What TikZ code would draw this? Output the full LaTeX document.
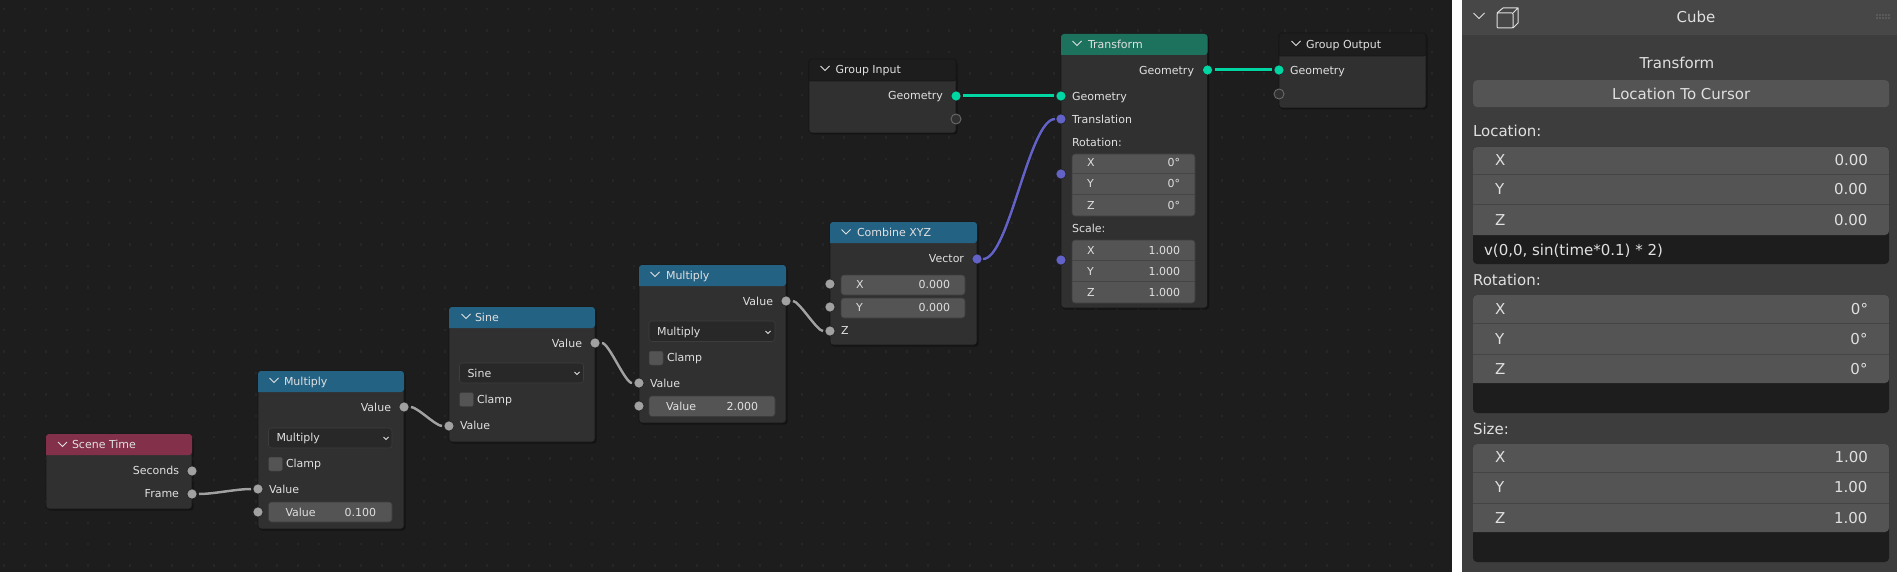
\documentclass[tikz,border=0pt]{standalone}
\usepackage{fontspec}
\usetikzlibrary{shadows}
\setmainfont{DejaVu Sans}
\definecolor{bgc}{HTML}{1D1D1D}
\definecolor{griddot}{HTML}{262626}
\definecolor{nbody}{HTML}{303030}
\definecolor{edgec}{HTML}{171717}
\definecolor{hblue}{HTML}{246283}
\definecolor{hred}{HTML}{83314A}
\definecolor{hgreen}{HTML}{1D725E}
\definecolor{fieldc}{HTML}{545454}
\definecolor{ddc}{HTML}{282828}
\definecolor{ddedge}{HTML}{3D3D3D}
\definecolor{txt}{HTML}{E0E0E0}
\definecolor{sgray}{HTML}{A1A1A1}
\definecolor{sgeo}{HTML}{00D6A3}
\definecolor{svec}{HTML}{6363C7}
\definecolor{panelc}{HTML}{3D3D3D}
\definecolor{panelh}{HTML}{474747}
\definecolor{paneldark}{HTML}{1D1D1D}
\definecolor{sepc}{HTML}{444444}
\newcommand{\nfs}{\fontsize{11}{13}\selectfont}
\newcommand{\pfs}{\fontsize{15}{18}\selectfont}
\tikzset{
  x=1pt,y=-1pt,
  bodybox/.style={rectangle,fill=nbody,draw=edgec,line width=.8pt,rounded corners=3pt,inner sep=0pt,outer sep=0pt,anchor=north west,drop shadow={shadow xshift=1.5pt,shadow yshift=-1.5pt,opacity=.35,fill=black}},
  lblbase/.style={inner sep=0pt,outer sep=0pt,text=txt,font=\nfs,text height=8pt,text depth=0pt},
  lblL/.style={lblbase,anchor=west},
  lblR/.style={lblbase,anchor=east},
  plblbase/.style={inner sep=0pt,outer sep=0pt,text=txt,font=\pfs,text height=11pt,text depth=0pt},
  plblL/.style={plblbase,anchor=west},
  plblR/.style={plblbase,anchor=east},
  plblC/.style={plblbase,anchor=center},
  chev/.style={draw=txt,line width=.8pt,line join=miter},
  grphead/.style={fill=bgc,draw=edgec,line width=.8pt,rounded corners=3pt},
  fieldbox/.style={rectangle,fill=fieldc,draw=ddedge,line width=.6pt,rounded corners=3pt,inner sep=0pt,outer sep=0pt,anchor=north west},
  ddbox/.style={rectangle,fill=ddc,draw=ddedge,line width=.6pt,rounded corners=3pt,inner sep=0pt,outer sep=0pt,anchor=north west},
  checkbox/.style={rectangle,fill=fieldc,draw=ddedge,line width=.5pt,rounded corners=2pt,inner sep=0pt,outer sep=0pt,anchor=north west,minimum width=14pt,minimum height=14pt},
  sockbase/.style={circle,inner sep=0pt,outer sep=0pt,minimum size=10pt,draw=edgec!70!nbody,line width=.5pt},
  sockg/.style={sockbase,fill=sgray},
  sockgeo/.style={sockbase,fill=sgeo},
  sockvec/.style={sockbase,fill=svec},
  sockempty/.style={sockbase,fill=nbody,draw=sgray!65!black,line width=.9pt},
  wireunder/.style={preaction={draw=edgec,line width=3.8pt}},
  wireg/.style={wireunder,draw=sgray,line width=2.5pt,shorten <=2pt,shorten >=2pt},
  wiregeo/.style={wireunder,draw=sgeo,line width=3pt,shorten <=2pt,shorten >=2pt},
  wirevec/.style={wireunder,draw=svec,line width=2.5pt,shorten <=1pt,shorten >=1pt},
  sepl/.style={draw=sepc,line width=1pt},
}
\begin{document}
\begin{tikzpicture}
\useasboundingbox (0,0) rectangle (1897,572);
% backgrounds
\fill[bgc] (0,0) rectangle (1452,572);
\fill[white] (1452,0) rectangle (1462,572);
\fill[panelc] (1462,0) rectangle (1897,572);
\fill[panelh] (1462,0) rectangle (1897,35);
% grid dots
\foreach \i in {0,...,68} \foreach \j in {0,...,27}
  \fill[griddot] ({2.5+21*\i},{8+21.4*\j}) rectangle +(2.4,2.4);

% ---------- node bodies
% Scene Time
\node[bodybox,minimum width=146pt,minimum height=75pt] (scene) at (46,434) {};
\fill[hred,rounded corners=3pt] (46,455) -- (46,434) -- (192,434) -- (192,455) [sharp corners] -- cycle;
\draw[chev] (58,442) -- (62.5,446.5) -- (67,442);
\node[lblL] (sceneT) at (72,444.5) {Scene Time};
\node[lblR] (sceneS) at (179,470.5) {Seconds};
\node[lblR] (sceneF) at (179,493.5) {Frame};
\node[sockg] (sSec) at (192,471) {};
\node[sockg] (sFrame) at (192,494) {};

% Multiply 1
\node[bodybox,minimum width=146pt,minimum height=158pt] (mula) at (258,371) {};
\fill[hblue,rounded corners=3pt] (258,392) -- (258,371) -- (404,371) -- (404,392) [sharp corners] -- cycle;
\draw[chev] (269.5,378) -- (274,382.5) -- (278.5,378);
\node[lblL] (mulaT) at (284,381.5) {Multiply};
\node[lblR] (mulaO) at (391,407) {Value};
\node[ddbox,minimum width=123.5pt,minimum height=20pt] (mulaD) at (268.5,428) {};
\node[lblL] (mulaDT) at (276.5,437.5) {Multiply};
\draw[chev] (383.5,437) -- (386,439.5) -- (388.5,437);
\node[checkbox] (mulaC) at (268.5,457) {};
\node[lblL] (mulaCT) at (286,463.5) {Clamp};
\node[lblL] (mulaI) at (269,489) {Value};
\node[fieldbox,minimum width=123.5pt,minimum height=20pt] (mulaF) at (268.5,502) {};
\node[lblL] (mulaFL) at (285.5,512) {Value};
\node[lblR] (mulaFV) at (376,512) {0.100};
\node[sockg] (mulaOut) at (404,407) {};
\node[sockg] (mulaIn) at (258,489) {};
\node[sockg] (mulaIn2) at (258,512) {};

% Sine
\node[bodybox,minimum width=146pt,minimum height=135pt] (sine) at (449,307) {};
\fill[hblue,rounded corners=3pt] (449,328) -- (449,307) -- (595,307) -- (595,328) [sharp corners] -- cycle;
\draw[chev] (461.5,314) -- (466,318.5) -- (470.5,314);
\node[lblL] (sineT) at (475,317.5) {Sine};
\node[lblR] (sineO) at (582,343) {Value};
\node[ddbox,minimum width=124pt,minimum height=20pt] (sineD) at (459.5,363) {};
\node[lblL] (sineDT) at (467.5,373) {Sine};
\draw[chev] (574.5,372) -- (577,374.5) -- (579.5,372);
\node[checkbox] (sineC) at (459.5,392.5) {};
\node[lblL] (sineCT) at (477,399) {Clamp};
\node[lblL] (sineI) at (460,425.5) {Value};
\node[sockg] (sineOut) at (595,343) {};
\node[sockg] (sineIn) at (449,426) {};

% Multiply 2
\node[bodybox,minimum width=147pt,minimum height=158pt] (mulb) at (639,265) {};
\fill[hblue,rounded corners=3pt] (639,286) -- (639,265) -- (786,265) -- (786,286) [sharp corners] -- cycle;
\draw[chev] (650.5,272) -- (655,276.5) -- (659.5,272);
\node[lblL] (mulbT) at (666,275) {Multiply};
\node[lblR] (mulbO) at (773,301) {Value};
\node[ddbox,minimum width=126pt,minimum height=20.5pt] (mulbD) at (649,321) {};
\node[lblL] (mulbDT) at (657,331) {Multiply};
\draw[chev] (765.5,331) -- (768,333.5) -- (770.5,331);
\node[checkbox] (mulbC) at (649,351) {};
\node[lblL] (mulbCT) at (667,357.5) {Clamp};
\node[lblL] (mulbI) at (650,383) {Value};
\node[fieldbox,minimum width=126pt,minimum height=20.5pt] (mulbF) at (649,396) {};
\node[lblL] (mulbFL) at (666,406) {Value};
\node[lblR] (mulbFV) at (758,406) {2.000};
\node[sockg] (mulbOut) at (786,301) {};
\node[sockg] (mulbIn) at (639,383) {};
\node[sockg] (mulbIn2) at (639,406) {};

% Combine XYZ
\node[bodybox,minimum width=147pt,minimum height=123pt] (comb) at (830,222) {};
\fill[hblue,rounded corners=3pt] (830,243) -- (830,222) -- (977,222) -- (977,243) [sharp corners] -- cycle;
\draw[chev] (841.5,229.5) -- (846,234) -- (850.5,229.5);
\node[lblL] (combT) at (857,232) {Combine XYZ};
\node[lblR] (combO) at (964,258) {Vector};
\node[fieldbox,minimum width=124pt,minimum height=20pt] (combX) at (841,275) {};
\node[lblL] (combXL) at (856,284) {X};
\node[lblR] (combXV) at (950,284) {0.000};
\node[fieldbox,minimum width=124pt,minimum height=20pt] (combY) at (841,298) {};
\node[lblL] (combYL) at (856,307) {Y};
\node[lblR] (combYV) at (950,307) {0.000};
\node[lblL] (combZ) at (841,330) {Z};
\node[sockvec] (combOut) at (977,259) {};
\node[sockg] (combXin) at (830,284) {};
\node[sockg] (combYin) at (830,307) {};
\node[sockg] (combZin) at (830,331) {};

% Group Input
\node[bodybox,minimum width=147pt,minimum height=74pt] (gin) at (809,59) {};
\path[grphead] (809,81) -- (809,59) -- (956,59) -- (956,81) [sharp corners] -- cycle;
\draw[chev] (820.5,66) -- (825,70.5) -- (829.5,66);
\node[lblL] (ginT) at (835.5,69.5) {Group Input};
\node[lblR] (ginG) at (943,96) {Geometry};
\node[sockgeo] (ginOut) at (956,96) {};
\node[sockempty] (ginE) at (956,119) {};

% Transform
\node[bodybox,minimum width=146.5pt,minimum height=274pt] (tf) at (1061,34) {};
\fill[hgreen,rounded corners=3pt] (1061,55) -- (1061,34) -- (1207.5,34) -- (1207.5,55) [sharp corners] -- cycle;
\draw[chev] (1072.5,41) -- (1077,45.5) -- (1081.5,41);
\node[lblL] (tfT) at (1088,45) {Transform};
\node[lblR] (tfO) at (1194,70.5) {Geometry};
\node[lblL] (tfG) at (1072,97) {Geometry};
\node[lblL] (tfTr) at (1072,120) {Translation};
\node[lblL] (tfR) at (1072,143) {Rotation:};
\node[fieldbox,minimum width=123pt,minimum height=62pt] (tfRf) at (1072,154) {};
\draw[sepl] (1072,174) -- (1195,174) (1072,195) -- (1195,195);
\node[lblL] (tfRx) at (1087,163) {X};
\node[lblR] (tfRxv) at (1180,163) {0°};
\node[lblL] (tfRy) at (1087,184) {Y};
\node[lblR] (tfRyv) at (1180,184) {0°};
\node[lblL] (tfRz) at (1087,205) {Z};
\node[lblR] (tfRzv) at (1180,205) {0°};
\node[lblL] (tfS) at (1072,229) {Scale:};
\node[fieldbox,minimum width=123pt,minimum height=63pt] (tfSf) at (1072,240) {};
\draw[sepl] (1072,260) -- (1195,260) (1072,281) -- (1195,281);
\node[lblL] (tfSx) at (1087,250) {X};
\node[lblR] (tfSxv) at (1180,250) {1.000};
\node[lblL] (tfSy) at (1087,271) {Y};
\node[lblR] (tfSyv) at (1180,271) {1.000};
\node[lblL] (tfSz) at (1087,292) {Z};
\node[lblR] (tfSzv) at (1180,292) {1.000};
\node[sockgeo] (tfOut) at (1207.5,70) {};
\node[sockgeo] (tfIn) at (1061,96) {};
\node[sockvec] (tfTrans) at (1061,119) {};
\node[sockvec] (tfRot) at (1061,174) {};
\node[sockvec] (tfScale) at (1061,260) {};

% Group Output
\node[bodybox,minimum width=147pt,minimum height=75pt] (gout) at (1279,33) {};
\path[grphead] (1279,56) -- (1279,33) -- (1426,33) -- (1426,56) [sharp corners] -- cycle;
\draw[chev] (1291.5,41) -- (1296,45.5) -- (1300.5,41);
\node[lblL] (goutT) at (1306,45) {Group Output};
\node[lblL] (goutG) at (1290,70.5) {Geometry};
\node[sockgeo] (goutIn) at (1279,70) {};
\node[sockempty] (goutE) at (1279,94) {};

% ---------- wires
\draw[wireg] (sFrame) .. controls +(22,0) and +(-22,0) .. (mulaIn);
\draw[wireg] (mulaOut) .. controls +(13,0) and +(-13,0) .. (sineIn);
\draw[wireg] (sineOut) .. controls +(14,0) and +(-14,0) .. (mulbIn);
\draw[wireg] (mulbOut) .. controls +(13,0) and +(-13,0) .. (combZin);
\draw[wirevec] (combOut) .. controls +(32,0) and +(-32,0) .. (tfTrans);
\draw[wiregeo] (ginOut) -- (tfIn);
\draw[wiregeo] (tfOut) -- (goutIn);

% ---------- side panel
\draw[draw=txt,line width=1pt] (1473.5,13) -- (1479,18.5) -- (1484.5,13);
\draw[draw=txt,line width=1pt,line join=round,rounded corners=1pt] (1497,13) rectangle (1513,28);
\draw[draw=txt,line width=1pt,line join=round] (1497,13) -- (1503,8) -- (1518,8) -- (1518,23) -- (1513,28) (1513,13) -- (1518,8);
\node[plblC] (pCube) at (1696,17) {Cube};
\foreach \gx in {1877,1880,1883,1886,1889} \foreach \gy in {15,18}
  \fill[txt!70!black] (\gx,\gy) circle (.6);
\node[plblC] (pTrans) at (1677,63) {Transform};
\node[rectangle,fill=fieldc,rounded corners=4pt,minimum width=416pt,minimum height=27pt,inner sep=0pt,anchor=north west] (pBtn) at (1473,80) {};
\node[plblC] (pBtnT) at (pBtn.center) {Location To Cursor};

% Location
\node[plblL] (pLoc) at (1473,131) {Location:};
\fill[paneldark,rounded corners=4pt] (1473,147) rectangle (1889,264);
\fill[fieldc,rounded corners=4pt] (1473,235) -- (1473,147) -- (1889,147) -- (1889,235) [sharp corners] -- cycle;
\draw[sepl] (1473,175) -- (1889,175) (1473,205) -- (1889,205);
\node[plblL] (pLx) at (1495,160) {X};
\node[plblR] (pLxv) at (1868,160) {0.00};
\node[plblL] (pLy) at (1495,189.5) {Y};
\node[plblR] (pLyv) at (1867.5,189.5) {0.00};
\node[plblL] (pLz) at (1495,220) {Z};
\node[plblR] (pLzv) at (1867.5,220) {0.00};
\node[plblL] (pExpr) at (1484,250) {v(0,0, sin(time*0.1) * 2)};

% Rotation
\node[plblL] (pRot) at (1473,280) {Rotation:};
\fill[paneldark,rounded corners=4pt] (1473,295) rectangle (1889,413);
\fill[fieldc,rounded corners=4pt] (1473,383) -- (1473,295) -- (1889,295) -- (1889,383) [sharp corners] -- cycle;
\draw[sepl] (1473,323.5) -- (1889,323.5) (1473,354) -- (1889,354);
\node[plblL] (pRx) at (1495,309) {X};
\node[plblR] (pRxv) at (1868,309) {0°};
\node[plblL] (pRy) at (1495,338.5) {Y};
\node[plblR] (pRyv) at (1867.5,338.5) {0°};
\node[plblL] (pRz) at (1495,369) {Z};
\node[plblR] (pRzv) at (1867.5,369) {0°};

% Size
\node[plblL] (pSize) at (1473,429) {Size:};
\fill[paneldark,rounded corners=4pt] (1473,444) rectangle (1889,562);
\fill[fieldc,rounded corners=4pt] (1473,532) -- (1473,444) -- (1889,444) -- (1889,532) [sharp corners] -- cycle;
\draw[sepl] (1473,472.5) -- (1889,472.5) (1473,503) -- (1889,503);
\node[plblL] (pSx) at (1495,457) {X};
\node[plblR] (pSxv) at (1868,457) {1.00};
\node[plblL] (pSy) at (1495,487) {Y};
\node[plblR] (pSyv) at (1867.5,487) {1.00};
\node[plblL] (pSz) at (1495,517.5) {Z};
\node[plblR] (pSzv) at (1867.5,517.5) {1.00};
\end{tikzpicture}
\end{document}
